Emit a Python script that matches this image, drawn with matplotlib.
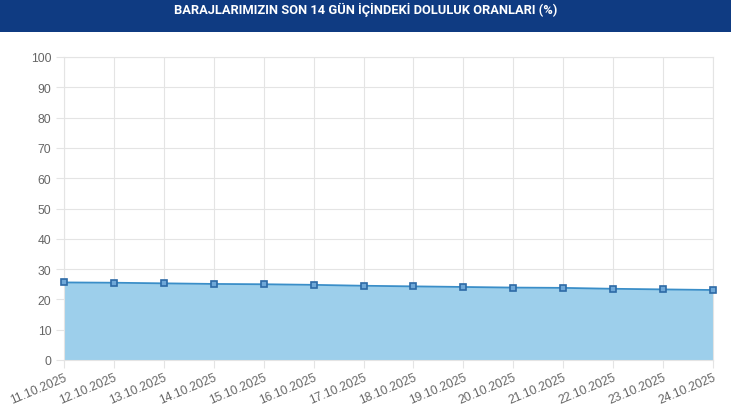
"""
Baraj doluluk oranlari - son 14 gun
"""

import matplotlib
matplotlib.use("Agg")
import matplotlib.pyplot as plt
from matplotlib.patches import Rectangle

# Data
dates = ["11.10.2025", "12.10.2025", "13.10.2025", "14.10.2025", "15.10.2025",
         "16.10.2025", "17.10.2025", "18.10.2025", "19.10.2025", "20.10.2025",
         "21.10.2025", "22.10.2025", "23.10.2025", "24.10.2025"]
doluluk = [25.6, 25.5, 25.3, 25.1, 25.0, 24.8, 24.5,
           24.3, 24.1, 23.9, 23.8, 23.5, 23.3, 23.1]
y_ticks = [0, 10, 20, 30, 40, 50, 60, 70, 80, 90, 100]
title = "BARAJLARIMIZIN SON 14 GÜN İÇİNDEKİ DOLULUK ORANLARI (%)"

plt.rcParams['font.family'] = ['Liberation Sans', 'DejaVu Sans']

fig = plt.figure(figsize=(7.31, 4.10), dpi=100)

# header bar
fig.patches.append(Rectangle((0, 1 - 33 / 410), 1, 33 / 410, transform=fig.transFigure,
                             facecolor='#0f3b82', edgecolor='none', zorder=0))
fig.text(0.5, 1 - 10 / 410, title, ha='center', va='center', color='white',
         fontsize=9.3, fontweight='bold', family=['Roboto', 'DejaVu Sans'])

ax = fig.add_axes([64 / 731, 1 - 361 / 410, (713 - 64) / 731, (361 - 58) / 410])

x = list(range(len(dates)))
ax.fill_between(x, doluluk, 0, color='#9dcfeb', zorder=2, linewidth=0)
ax.plot(x, doluluk, color='#3a8ec8', linewidth=1.3, zorder=3, clip_on=False,
        marker='s', markersize=4.3, markerfacecolor='#6fa8d8',
        markeredgecolor='#2d6aa6', markeredgewidth=1.2)

ax.set_xlim(0, len(dates) - 1)
ax.set_ylim(0, 100)
ax.set_yticks(y_ticks)
ax.set_xticks(x)
ax.set_xticklabels(dates, rotation=23, ha='right', rotation_mode='anchor')

ax.grid(True, color='#e4e4e4', linewidth=0.8, zorder=1)
ax.set_axisbelow(True)
for s in ax.spines.values():
    s.set_color('#e4e4e4')
    s.set_linewidth(0.8)

ax.tick_params(axis='both', colors='#e4e4e4', labelcolor='#666666',
               labelsize=8.7, length=6, width=0.8)
ax.tick_params(axis='y', pad=3)
ax.tick_params(axis='x', pad=2)

plt.savefig('out.png', dpi=100)
